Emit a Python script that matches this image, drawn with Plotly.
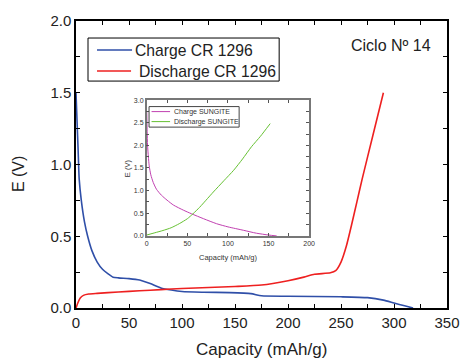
import plotly.graph_objects as go

# Main chart: CR 1296
charge_cap = [0, 1, 2, 3, 5, 8, 11, 15, 20, 25, 30, 35, 40, 50, 60, 70, 80, 90, 100, 120, 145, 165, 175, 200, 250, 275, 290, 300, 310, 318]
charge_v = [1.5, 1.3, 1.1, 0.9, 0.75, 0.6, 0.5, 0.4, 0.32, 0.27, 0.24, 0.215, 0.21, 0.205, 0.195, 0.17, 0.14, 0.125, 0.115, 0.11, 0.107, 0.1, 0.085, 0.082, 0.078, 0.072, 0.055, 0.035, 0.015, 0.0]

discharge_cap = [0, 2, 4, 7, 12, 20, 40, 60, 80, 100, 125, 150, 175, 200, 215, 225, 240, 245, 250, 255, 260, 265, 270, 280, 290]
discharge_v = [0.0, 0.04, 0.07, 0.088, 0.097, 0.102, 0.112, 0.12, 0.128, 0.136, 0.143, 0.15, 0.16, 0.19, 0.215, 0.235, 0.245, 0.26, 0.32, 0.43, 0.58, 0.74, 0.9, 1.2, 1.5]

# Inset: SUNGITE
s_charge_cap = [0, 0.5, 1, 2, 3, 5, 8, 12, 18, 25, 33, 45, 55, 70, 86, 100, 119, 135, 150, 160]
s_charge_v = [2.75, 2.3, 2.0, 1.75, 1.55, 1.35, 1.18, 1.03, 0.9, 0.79, 0.68, 0.57, 0.49, 0.38, 0.27, 0.2, 0.125, 0.06, 0.02, 0.0]

s_dis_cap = [0, 10, 20, 30, 40, 50, 57, 65, 75, 82, 95, 107, 118, 129, 140, 152]
s_dis_v = [0.02, 0.07, 0.12, 0.18, 0.27, 0.38, 0.49, 0.63, 0.83, 0.97, 1.22, 1.45, 1.7, 1.97, 2.2, 2.48]

main_names = ["Charge CR 1296", "Discharge CR 1296"]
inset_names = ["Charge SUNGITE", "Discharge SUNGITE"]

FONT = "Liberation Sans"
BLUE, RED, PINK, GREEN = "#2f4fa8", "#ee2020", "#c040b0", "#66c033"

fig = go.Figure()
fig.add_trace(go.Scatter(x=charge_cap, y=charge_v, mode="lines", name=main_names[0], showlegend=False,
                         line=dict(color=BLUE, width=1.6, shape="spline", smoothing=0.6)))
fig.add_trace(go.Scatter(x=discharge_cap, y=discharge_v, mode="lines", name=main_names[1], showlegend=False,
                         line=dict(color=RED, width=1.6, shape="spline", smoothing=0.6)))
fig.add_trace(go.Scatter(x=s_charge_cap, y=s_charge_v, mode="lines", name=inset_names[0],
                         line=dict(color=PINK, width=1, shape="spline", smoothing=0.6),
                         xaxis="x2", yaxis="y2", showlegend=False))
fig.add_trace(go.Scatter(x=s_dis_cap, y=s_dis_v, mode="lines", name=inset_names[1],
                         line=dict(color=GREEN, width=1, shape="spline", smoothing=0.6),
                         xaxis="x2", yaxis="y2", showlegend=False))

axis_main = dict(showline=True, linecolor="black", linewidth=1.5, mirror="ticks", ticks="inside",
                 ticklen=4, tickwidth=1, tickcolor="black", showgrid=False, zeroline=False,
                 automargin=False, tickfont=dict(family=FONT, size=15, color="#222"))
inset_axis = dict(showline=True, linecolor="#777", linewidth=1.5, mirror="ticks", ticks="inside",
                  ticklen=3, tickcolor="#555", showgrid=False, zeroline=False, automargin=False,
                  tickfont=dict(family=FONT, size=7, color="#333"))

# paper coords helpers (relative to main plot area)
W, H = 370.7, 286.7
def px(x):
    return (x - 76) / W
def py(y):
    return (307.7 - y) / H

shapes = [
    # main legend
    dict(type="rect", xref="paper", yref="paper", x0=px(88), x1=px(279), y0=py(81), y1=py(38),
         line=dict(color="black", width=1), fillcolor="white", layer="above"),
    dict(type="line", xref="paper", yref="paper", x0=px(97), x1=px(132), y0=py(50), y1=py(50),
         line=dict(color=BLUE, width=1.6), layer="above"),
    dict(type="line", xref="paper", yref="paper", x0=px(97), x1=px(131), y0=py(71), y1=py(71),
         line=dict(color=RED, width=1.6), layer="above"),
    # inset legend
    dict(type="rect", xref="paper", yref="paper", x0=px(149), x1=px(239), y0=py(127), y1=py(106.5),
         line=dict(color="#444", width=1), fillcolor="white", layer="above"),
    dict(type="line", xref="paper", yref="paper", x0=px(151.5), x1=px(170), y0=py(111.5), y1=py(111.5),
         line=dict(color=PINK, width=1), layer="above"),
    dict(type="line", xref="paper", yref="paper", x0=px(151.5), x1=px(170), y0=py(121.5), y1=py(121.5),
         line=dict(color=GREEN, width=1), layer="above"),
]

def ann(text, x, y, size, color="#222", xanchor="center", angle=0):
    return dict(text=text, x=px(x), y=py(y), xref="paper", yref="paper", xanchor=xanchor,
                yanchor="middle", showarrow=False, textangle=angle,
                font=dict(family=FONT, size=size, color=color))

annotations = [
    ann("Ciclo Nº 14", 391, 45, 16),
    ann(main_names[0], 133, 50, 15.7, xanchor="left"),
    ann(main_names[1], 137, 71, 15.7, xanchor="left"),
    ann(inset_names[0], 171.5, 111.5, 7, "#333", xanchor="left"),
    ann(inset_names[1], 171.5, 121.5, 7, "#333", xanchor="left"),
    ann("Capacity (mAh/g)", 261, 349.5, 17),
    ann("E (V)", 18, 174, 16, angle=-90),
    ann("Capacity (mAh/g)", 228, 257, 7.5, "#333"),
    ann("E (V)", 127, 168, 7.5, "#333", angle=-90),
]

fig.update_layout(
    width=461, height=360,
    margin=dict(l=76, r=14.3, t=21, b=52.3),
    paper_bgcolor="white", plot_bgcolor="white",
    font=dict(family=FONT, color="#222"),
    showlegend=False,
    xaxis=dict(axis_main, range=[0, 350], dtick=50, tick0=0,
               minor=dict(dtick=25, ticks="inside", ticklen=4, tickcolor="black")),
    yaxis=dict(axis_main, range=[0, 2.0], dtick=0.5, tickformat=".1f",
               minor=dict(dtick=0.25, ticks="inside", ticklen=4, tickcolor="black")),
    xaxis2=dict(inset_axis, domain=[0.1907, 0.6285], anchor="y2", range=[0, 200], dtick=50,
                minor=dict(dtick=25, ticks="inside", ticklen=3, tickcolor="#555")),
    yaxis2=dict(inset_axis, domain=[0.2511, 0.7245], anchor="x2", range=[0, 3.0], dtick=0.5, tickformat=".1f",
                minor=dict(dtick=0.25, ticks="inside", ticklen=3, tickcolor="#555")),
    shapes=shapes,
    annotations=annotations,
)

fig.write_html("out.html", config={"displayModeBar": False},
               post_script="document.body.style.margin='0';document.body.style.padding='0';")
